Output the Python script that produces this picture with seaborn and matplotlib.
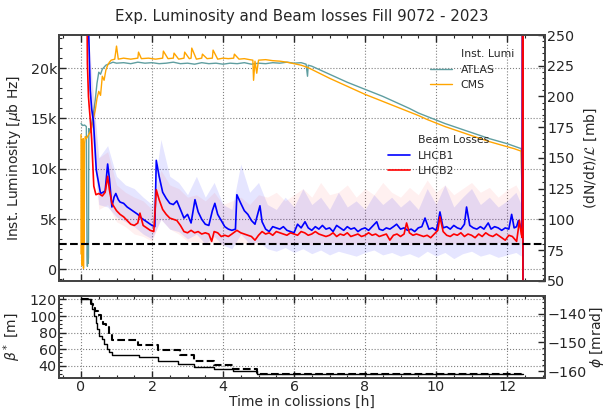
import matplotlib
matplotlib.use("Agg")
import matplotlib.pyplot as plt
from matplotlib.lines import Line2D
from matplotlib.ticker import MultipleLocator, FuncFormatter
import seaborn as sns

# --- instantaneous luminosity (left axis, ub^-1 Hz) ---
atlas_t = [0.00, 0.05, 0.10, 0.15, 0.17, 0.18, 0.19, 0.20, 0.21, 0.22,
           0.25, 0.30, 0.35, 0.40, 0.45, 0.50, 0.55, 0.60, 0.65, 0.70,
           0.80, 0.90, 1.00, 1.20, 1.40, 1.60, 1.80, 2.00, 2.20, 2.40,
           2.60, 2.80, 3.00, 3.20, 3.40, 3.60, 3.80, 4.00, 4.20, 4.40,
           4.60, 4.80, 5.00, 5.20, 5.40, 5.60, 5.80, 6.00, 6.20, 6.34,
           6.38, 6.40, 6.50, 6.75, 7.00, 7.25, 7.50, 7.75, 8.00, 8.25,
           8.50, 8.75, 9.00, 9.25, 9.50, 9.75, 10.00, 10.25, 10.50, 10.75,
           11.00, 11.25, 11.50, 11.75, 12.00, 12.20, 12.40, 12.45]
atlas = [14500, 14300, 14350, 14200, 1500, 300, 2500, 600, 1200, 14000,
         13600, 14500, 15500, 16800, 18500, 19600, 19400, 19900, 20100, 20300,
         20450, 20600, 20500, 20550, 20450, 20600, 20500, 20550, 20450, 20500,
         20600, 20450, 20500, 20400, 20550, 20450, 20500, 20400, 20500, 20450,
         20550, 20400, 20500, 20450, 20550, 20500, 20600, 20500, 20550, 20400,
         19200, 20300, 20200, 19800, 19400, 19000, 18600, 18250, 17900, 17550,
         17200, 16800, 16400, 16000, 15550, 15200, 14850, 14500, 14200, 13900,
         13600, 13300, 13000, 12750, 12500, 12250, 12000, 300]

cms_t = [0.00, 0.01, 0.02, 0.03, 0.04, 0.05, 0.06, 0.07, 0.08, 0.09,
         0.10, 0.12, 0.15, 0.20, 0.25, 0.30, 0.35, 0.40, 0.45, 0.50,
         0.55, 0.60, 0.65, 0.70, 0.75, 0.80, 0.85, 0.95, 1.00, 1.05,
         1.20, 1.40, 1.60, 1.62, 1.70, 1.90, 2.10, 2.30, 2.32, 2.45,
         2.60, 2.62, 2.75, 2.90, 2.92, 3.05, 3.10, 3.12, 3.25, 3.40,
         3.42, 3.55, 3.70, 3.72, 3.85, 4.00, 4.15, 4.30, 4.32, 4.45,
         4.60, 4.75, 4.84, 4.86, 4.90, 4.95, 5.00, 5.20, 5.40, 5.60,
         5.80, 6.00, 6.20, 6.40, 6.60, 6.80, 7.00, 7.25, 7.50, 7.75,
         8.00, 8.25, 8.50, 8.75, 9.00, 9.25, 9.50, 9.75, 10.00, 10.25,
         10.50, 10.75, 11.00, 11.25, 11.50, 11.75, 12.00, 12.20, 12.40, 12.46]
cms = [13400, 1500, 12800, 400, 10500, 800, 13000, 100, 7500, 2500,
       12500, 13200, 13000, 13300, 13600, 14100, 15000, 15800, 17000, 17700,
       17300, 19200, 18800, 19800, 20300, 20600, 20800, 20900, 22200, 20900,
       21000, 20900, 21000, 21600, 20950, 21000, 20900, 21000, 21700, 20950,
       21000, 21500, 20900, 21000, 21600, 20950, 21000, 22000, 20900, 21000,
       21400, 20950, 21000, 21800, 20900, 21000, 20950, 21000, 21400, 20900,
       20950, 20850, 20800, 18800, 20700, 19500, 20800, 20850, 20750, 20700,
       20600, 20450, 20300, 20050, 19700, 19350, 19000, 18600, 18200, 17800,
       17400, 17050, 16700, 16350, 16000, 15650, 15300, 14900, 14550, 14200,
       13900, 13600, 13300, 13000, 12700, 12450, 12200, 12000, 11750, 0]

# --- beam losses (right axis, mb) ---
b1_t = [0.20, 0.22, 0.26, 0.30, 0.35, 0.38, 0.43, 0.48, 0.55, 0.62,
        0.68, 0.75, 0.80, 0.87, 0.93, 0.98, 1.05, 1.10, 1.20, 1.30,
        1.40, 1.50, 1.60, 1.70, 1.80, 1.90, 2.00, 2.08, 2.12, 2.20,
        2.30, 2.40, 2.50, 2.60, 2.70, 2.80, 2.90, 3.00, 3.10, 3.21,
        3.30, 3.40, 3.50, 3.60, 3.70, 3.77, 3.85, 3.95, 4.05, 4.15,
        4.25, 4.35, 4.39, 4.50, 4.60, 4.70, 4.80, 4.90, 5.04, 5.10,
        5.20, 5.30, 5.40, 5.50, 5.60, 5.70, 5.80, 5.90, 6.00, 6.10,
        6.20, 6.31, 6.40, 6.50, 6.60, 6.70, 6.80, 6.90, 7.00, 7.10,
        7.20, 7.30, 7.40, 7.50, 7.60, 7.70, 7.80, 7.90, 8.00, 8.10,
        8.20, 8.33, 8.40, 8.50, 8.60, 8.70, 8.80, 8.89, 9.00, 9.10,
        9.20, 9.30, 9.40, 9.50, 9.60, 9.69, 9.80, 9.90, 10.00, 10.05,
        10.11, 10.20, 10.30, 10.40, 10.50, 10.60, 10.70, 10.80, 10.86, 10.95,
        11.05, 11.15, 11.25, 11.35, 11.47, 11.55, 11.65, 11.75, 11.85, 11.95,
        12.05, 12.13, 12.20, 12.27, 12.32, 12.38, 12.42, 12.44, 12.45]
lhcb1 = [300, 248, 205, 190, 180, 165, 140, 132, 121, 122,
         123, 145, 133, 110, 118, 121, 116, 114, 113, 110,
         108, 106, 104, 101, 99, 97, 95, 94, 148, 135,
         122, 117, 113, 112, 115, 108, 101, 104, 97, 116,
         106, 100, 96, 95, 107, 113, 104, 99, 94, 92,
         91, 92, 120, 113, 107, 104, 99, 96, 111, 98,
         92, 90, 94, 93, 92, 94, 91, 90, 89, 96,
         93, 98, 93, 91, 94, 92, 95, 92, 93, 90,
         95, 93, 91, 94, 92, 93, 90, 92, 93, 91,
         94, 98, 92, 91, 93, 92, 94, 96, 92, 93,
         91, 92, 90, 93, 94, 101, 92, 93, 91, 96,
         106, 93, 94, 92, 95, 93, 92, 96, 110, 95,
         93, 92, 94, 92, 97, 92, 94, 93, 91, 93,
         92, 104, 93, 94, 99, 94, 92, 400, 0]

b2_t = [0.16, 0.18, 0.21, 0.23, 0.27, 0.30, 0.33, 0.36, 0.42, 0.50,
        0.60, 0.68, 0.75, 0.80, 0.87, 1.00, 1.10, 1.20, 1.30, 1.40,
        1.50, 1.60, 1.66, 1.75, 1.85, 1.95, 2.05, 2.12, 2.20, 2.30,
        2.40, 2.50, 2.60, 2.70, 2.80, 2.90, 3.00, 3.10, 3.20, 3.30,
        3.40, 3.50, 3.60, 3.68, 3.75, 3.85, 3.95, 4.05, 4.15, 4.25,
        4.39, 4.50, 4.60, 4.70, 4.80, 4.90, 5.00, 5.10, 5.20, 5.30,
        5.40, 5.50, 5.60, 5.70, 5.80, 5.90, 6.00, 6.10, 6.20, 6.30,
        6.40, 6.50, 6.60, 6.70, 6.80, 6.90, 7.00, 7.10, 7.20, 7.30,
        7.40, 7.50, 7.60, 7.70, 7.80, 7.90, 8.00, 8.10, 8.20, 8.30,
        8.40, 8.50, 8.60, 8.70, 8.80, 8.90, 9.00, 9.10, 9.17, 9.25,
        9.35, 9.45, 9.55, 9.65, 9.75, 9.85, 9.95, 10.05, 10.11, 10.20,
        10.30, 10.40, 10.50, 10.60, 10.70, 10.80, 10.90, 11.00, 11.10, 11.20,
        11.30, 11.40, 11.50, 11.60, 11.70, 11.80, 11.95, 12.05, 12.15, 12.27,
        12.35, 12.40, 12.43, 12.44, 12.45]
lhcb2 = [300, 227, 200, 192, 178, 165, 146, 127, 120, 121,
         119, 122, 135, 124, 113, 107, 104, 102, 99, 96,
         95, 97, 105, 95, 93, 91, 90, 124, 116, 108,
         104, 101, 100, 99, 95, 90, 89, 91, 89, 90,
         88, 89, 88, 82, 90, 89, 86, 87, 86, 88,
         91, 89, 88, 87, 86, 83, 87, 90, 88, 89,
         87, 90, 89, 88, 87, 89, 88, 87, 90, 89,
         87, 88, 90, 88, 87, 86, 87, 89, 86, 88,
         87, 89, 86, 87, 88, 86, 87, 89, 87, 88,
         86, 87, 88, 83, 87, 88, 86, 88, 97, 89,
         87, 88, 87, 86, 87, 85, 88, 91, 102, 90,
         87, 86, 88, 87, 89, 86, 88, 87, 85, 88,
         86, 89, 87, 86, 88, 86, 83, 87, 86, 82,
         99, 88, 85, 400, -50]

# spread of the losses (shaded bands)
band_t = [0.25, 0.50, 0.75, 1.00, 1.25, 1.50, 1.75, 2.00, 2.25, 2.50,
          2.75, 3.00, 3.25, 3.50, 3.75, 4.00, 4.25, 4.50, 4.75, 5.00,
          5.25, 5.50, 5.75, 6.00, 6.25, 6.50, 6.75, 7.00, 7.25, 7.50,
          7.75, 8.00, 8.25, 8.50, 8.75, 9.00, 9.25, 9.50, 9.75, 10.00,
          10.25, 10.50, 10.75, 11.00, 11.25, 11.50, 11.75, 12.00, 12.25, 12.40]
b1_hi = [230, 150, 160, 135, 128, 125, 118, 112, 165, 135,
         130, 120, 135, 118, 130, 112, 108, 145, 122, 130,
         112, 108, 118, 110, 125, 112, 118, 108, 122, 110,
         115, 108, 120, 112, 118, 110, 116, 108, 125, 112,
         128, 110, 118, 125, 112, 118, 110, 115, 122, 112]
b1_lo = [190, 112, 110, 102, 98, 94, 88, 84, 100, 92,
         90, 84, 88, 80, 86, 79, 76, 88, 80, 82,
         76, 74, 77, 73, 76, 72, 75, 71, 74, 72,
         70, 73, 75, 71, 73, 70, 72, 69, 74, 70,
         73, 68, 72, 74, 70, 72, 69, 71, 73, 70]
b2_hi = [240, 150, 155, 128, 122, 118, 115, 108, 140, 128,
         125, 118, 120, 115, 122, 112, 115, 118, 112, 120,
         118, 122, 115, 120, 125, 118, 130, 120, 122, 128,
         118, 125, 120, 130, 122, 118, 126, 120, 132, 122,
         128, 120, 125, 130, 122, 126, 118, 124, 128, 120]
b2_lo = [180, 108, 112, 98, 94, 88, 86, 82, 100, 92,
         88, 82, 82, 80, 81, 79, 80, 81, 79, 80,
         81, 80, 79, 80, 81, 79, 80, 81, 80, 79,
         80, 81, 79, 80, 81, 80, 79, 80, 81, 80,
         79, 80, 81, 80, 79, 80, 81, 80, 79, 80]
loss_ref = 80

# --- optics: beta* (left) and crossing angle (right) ---
beta_t = [0.00, 0.27, 0.31, 0.36, 0.41, 0.46, 0.52, 0.60, 0.66, 0.74,
          0.80, 0.88, 1.64, 2.16, 2.74, 3.18, 3.74, 4.28, 4.96, 12.45]
beta = [120, 116, 108, 100, 92, 84, 76, 72, 66, 60,
        56, 53, 50, 46, 42, 38, 36, 33, 30, 30]
phi_t = [0.00, 0.27, 0.33, 0.39, 0.47, 0.55, 0.63, 0.70, 0.78, 0.88,
         1.61, 2.18, 2.78, 3.18, 3.74, 4.28, 4.96, 12.45]
phi = [-135, -136.5, -138, -139, -140.5, -142.2, -143.5, -144.6, -146.9, -149.2,
       -151, -152.8, -154.5, -156.3, -157.8, -159.3, -161, -161]

sns.set_style("ticks", {"xtick.direction": "in", "ytick.direction": "in",
                        "axes.edgecolor": "#444444"})
plt.rcParams["font.family"] = ["DejaVu Sans"]
plt.rcParams["axes.linewidth"] = 1.3
plt.rcParams["font.size"] = 10

fig = plt.figure(figsize=(6.07, 4.11), dpi=100)
ax = fig.add_axes([0.0972, 0.317, 0.8007, 0.5978])
ax2 = ax.twinx()
axb = fig.add_axes([0.0972, 0.081, 0.8007, 0.1995])
axb2 = axb.twinx()

# luminosity
sns.lineplot(x=atlas_t, y=atlas, ax=ax, color="cadetblue", lw=1,
             sort=False, estimator=None)
sns.lineplot(x=cms_t, y=cms, ax=ax, color="orange", lw=1,
             sort=False, estimator=None)

# losses
ax2.fill_between(band_t, b1_lo, b1_hi, color="blue", alpha=0.1, lw=0)
ax2.fill_between(band_t, b2_lo, b2_hi, color="red", alpha=0.06, lw=0)
sns.lineplot(x=b1_t, y=lhcb1, ax=ax2, color="blue", lw=1.2,
             sort=False, estimator=None)
sns.lineplot(x=b2_t, y=lhcb2, ax=ax2, color="red", lw=1.2,
             sort=False, estimator=None)
ax2.axhline(loss_ref, color="black", ls="--", lw=1.5, zorder=5)

# optics
sns.lineplot(x=beta_t, y=beta, ax=axb, color="black", lw=1,
             drawstyle="steps-post", sort=False, estimator=None)
sns.lineplot(x=phi_t, y=phi, ax=axb2, color="black", lw=1.5, ls="--",
             drawstyle="steps-post", sort=False, estimator=None)

xlim = (-0.62, 13.07)
for a in (ax, axb):
    a.set_xlim(*xlim)
    a.xaxis.set_major_locator(MultipleLocator(2))
    a.xaxis.set_minor_locator(MultipleLocator(0.5))
    a.grid(True, which="major", ls=":", color="gray", lw=0.8)
    a.tick_params(axis="x", which="both", top=True)
for a in (ax, ax2, axb, axb2):
    a.tick_params(which="major", direction="in", length=5, width=1,
                  labelsize=10.3, pad=1.5)
    a.tick_params(which="minor", direction="in", length=2.5, width=0.8)

ax.set_ylim(-1130, 23300)
ax.yaxis.set_major_locator(MultipleLocator(5000))
ax.yaxis.set_minor_locator(MultipleLocator(1000))
ax.yaxis.set_major_formatter(FuncFormatter(lambda v, p: "0" if v == 0 else f"{v / 1000:.0f}k"))
ax.tick_params(axis="x", labelbottom=False)
ax.set_ylabel("Inst. Luminosity [$\\mu$b Hz]", labelpad=5)

ax2.set_ylim(50, 250)
ax2.yaxis.set_major_locator(MultipleLocator(25))
ax2.yaxis.set_minor_locator(MultipleLocator(5))
ax2.set_ylabel("(dN/d$t$)/$\\mathcal{L}$ [mb]", labelpad=6)

axb.set_ylim(25.5, 124.5)
axb.yaxis.set_major_locator(MultipleLocator(20))
axb.yaxis.set_minor_locator(MultipleLocator(5))
axb.set_ylabel("$\\beta^*$ [m]", labelpad=5)
axb.set_xlabel("Time in colissions [h]", labelpad=1)
axb2.set_ylim(-162.3, -133.7)
axb2.yaxis.set_major_locator(MultipleLocator(10))
axb2.yaxis.set_minor_locator(MultipleLocator(2))
axb2.set_ylabel("$\\phi$ [mrad]", labelpad=1)

ax.set_title("Exp. Luminosity and Beam losses Fill 9072 - 2023", fontsize=10.8, pad=10)

blank = Line2D([], [], color="none")
h_lumi = [blank, Line2D([], [], color="cadetblue", lw=1), Line2D([], [], color="orange", lw=1)]
leg1 = ax2.legend(h_lumi, ["Inst. Lumi", "ATLAS", "CMS"], loc="upper left",
                  bbox_to_anchor=(0.755, 0.96), borderaxespad=0, frameon=False,
                  fontsize=7.8)
ax2.add_artist(leg1)
h_loss = [blank, Line2D([], [], color="blue", lw=1.2), Line2D([], [], color="red", lw=1.2)]
ax2.legend(h_loss, ["Beam Losses", "LHCB1", "LHCB2"], loc="upper left",
           bbox_to_anchor=(0.668, 0.61), borderaxespad=0, frameon=False,
           fontsize=7.8)

fig.savefig("out.png", dpi=100)
